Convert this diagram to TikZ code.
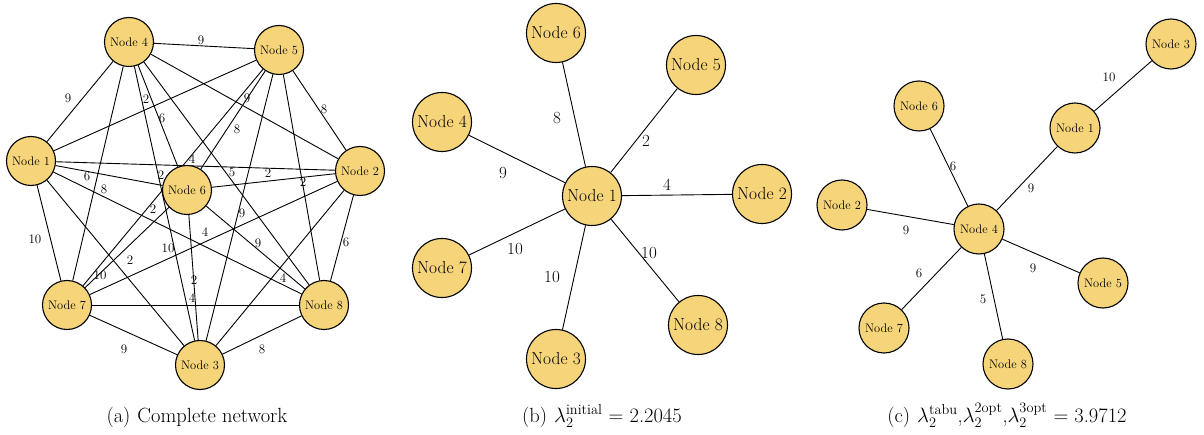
\documentclass[tikz,border=0pt]{standalone}
\usepackage{amsmath}
\usetikzlibrary{backgrounds}
\definecolor{nodefill}{RGB}{246,213,122}
\tikzset{
  vertex/.style={circle, draw, line width=1.1pt, fill=nodefill, inner sep=0pt},
  vsmall/.style={vertex, minimum size=49pt, font=\fontsize{12.4}{13}\selectfont},
  vbig/.style={vertex, minimum size=59pt, font=\fontsize{17.4}{19}\selectfont},
  vmid/.style={vertex, minimum size=50pt, font=\fontsize{12.4}{13}\selectfont},
  link/.style={line width=0.9pt},
  wt/.style={inner sep=0pt, font=\fontsize{13}{14}\selectfont},
  wtbig/.style={inner sep=0pt, font=\fontsize{17}{18}\selectfont},
  subcap/.style={inner sep=0pt, anchor=base, font=\fontsize{20.5}{24}\selectfont}
}
\begin{document}
\begin{tikzpicture}[x=1pt,y=-1pt]
\useasboundingbox (0,0) rectangle (1204,435);

\foreach \i/\x/\y in {1/31/161, 2/360/171, 3/200/365, 4/129/42,
                      5/279/50, 6/187/190, 7/67/305, 8/324/305}
  \node[vsmall] (a\i) at (\x,\y) {Node \i};
\begin{scope}[on background layer]
\foreach \u/\v/\w/\lx/\ly in {1/2/4/192/159, 1/3/10/100/275, 1/4/9/68/98,
    1/5/2/146/99, 1/6/8/104/189, 1/7/10/35/239, 1/8/10/168/248,
    2/3/4/283/278, 2/4/9/247/98, 2/5/8/324/109, 2/6/2/268/173,
    2/7/4/205/232, 2/8/6/346/242, 3/4/2/153/209, 3/5/9/242/213,
    3/6/2/194/280, 3/7/9/124/349, 3/8/8/262/349, 4/5/9/201/40,
    4/6/6/162/118, 4/7/6/87/176, 4/8/5/232/172, 5/6/8/237/129,
    5/7/2/161/175, 5/8/2/303/182, 6/7/2/130/260, 6/8/9/258/243,
    7/8/4/192/298}
  \draw[link] (a\u) -- (a\v) node[wt] (la\u\v) at (\lx,\ly) {\w};
\end{scope}
\node[subcap] (capa) at (197,422) {(a)\hspace{7pt}Complete network};

\foreach \i/\x/\y in {1/592/196, 2/762/194, 3/556/359, 4/442/122,
                      5/696/65, 6/556/33, 7/442/268, 8/698/325}
  \node[vbig] (b\i) at (\x,\y) {Node \i};
\begin{scope}[on background layer]
\foreach \v/\w/\lx/\ly in {6/8/557/118, 5/2/646/141, 4/9/503/173,
    2/4/667/185, 7/10/515/249, 3/10/552/277, 8/10/649/253}
  \draw[link] (b1) -- (b\v) node[wtbig] (lb\v) at (\lx,\ly) {\w};
\end{scope}
\node[subcap] (capb) at (602,422) {(b)\hspace{7pt}$\lambda_2^{\text{initial}}$ = 2.2045};

\foreach \i/\x/\y in {1/1075/128, 2/842/205, 3/1171/44, 4/979/229,
                      5/1103/283, 6/919/106, 7/884/328, 8/1008/364}
  \node[vmid] (c\i) at (\x,\y) {Node \i};
\begin{scope}[on background layer]
\foreach \u/\v/\w/\lx/\ly in {1/3/10/1109/77, 4/6/6/953/166, 4/1/9/1031/188,
    4/2/9/906/230, 4/7/6/919/273, 4/5/9/1033/268, 4/8/5/983/299}
  \draw[link] (c\u) -- (c\v) node[wt] (lc\u\v) at (\lx,\ly) {\w};
\end{scope}
\node[subcap] (capc) at (1007,422) {(c)\hspace{7pt}$\lambda_2^{\text{tabu}}$,$\lambda_2^{\text{2opt}}$,$\lambda_2^{\text{3opt}}$ = 3.9712};
\end{tikzpicture}
\end{document}
